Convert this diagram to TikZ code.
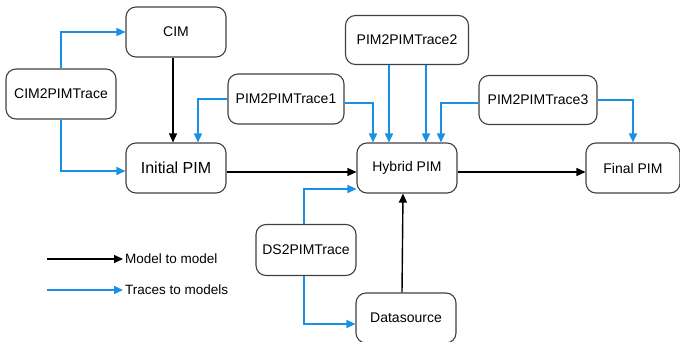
\documentclass[tikz,border=0pt]{standalone}
\usepackage{fontspec}
\setmainfont{Liberation Sans}
\usepackage{tikz}
\usetikzlibrary{arrows.meta,positioning}
\definecolor{traceblue}{RGB}{24,144,232}

\begin{document}
\begin{tikzpicture}[x=1pt,y=-1pt,
    model/.style={draw=black!75, line width=1.1pt, rounded corners=10pt,
      minimum width=100pt, minimum height=50pt, inner sep=2pt,
      font=\fontsize{14}{16}\selectfont},
    m2m/.style={-{Triangle[length=9pt,width=8pt]}, line width=1.4pt, black},
    trace/.style={-{Triangle[length=9pt,width=8pt]}, line width=1.6pt, traceblue}]
   \useasboundingbox (0,0) rectangle (680,342);

   \node[model] (cim) at (176,32) {CIM};
   \node[model, minimum width=110pt] (cimtrace) at (61,94) {CIM2PIMTrace};
   \node[model, font=\fontsize{16}{18}\selectfont] (ini) at (176,168) {Initial PIM};
   \node[model, minimum width=116pt] (trace1) at (286,99) {PIM2PIMTrace1};
   \node[model, minimum width=123pt, minimum height=49pt] (trace2) at (407,40) {PIM2PIMTrace2};
   \node[model] (hyb) at (407,168) {Hybrid PIM};
   \node[model, minimum width=118pt, minimum height=49pt] (trace3) at (538,100) {PIM2PIMTrace3};
   \node[model, minimum width=94pt] (fin) at (633,168) {Final PIM};
   \node[model, minimum height=51pt] (dstrace) at (306,250) {DS2PIMTrace};
   \node[model] (data) at (406,318) {Datasource};

   % legend
   \coordinate (leg1) at (47,259);
   \coordinate (leg2) at (47,290);
   \node[anchor=west, inner sep=2pt, font=\fontsize{13.5}{16}\selectfont] (legm2m) at (123,259) {Model to model};
   \node[anchor=west, inner sep=2pt, font=\fontsize{13.5}{16}\selectfont] (legtrace) at (123,290) {Traces to models};
   \draw[m2m] (leg1) -- (legm2m.west);
   \draw[trace] (leg2) -- (legtrace.west);

   % model to model
   \draw[m2m] ([xshift=-3pt]cim.south) -- ([xshift=-3pt]ini.north);
   \draw[m2m] ([yshift=-4pt]ini.east) -- ([yshift=-4pt]hyb.west);
   \draw[m2m] ([yshift=-4pt]hyb.east) -- ([yshift=-4pt]fin.west);
   \draw[m2m] ([xshift=-4pt]data.north) -- ([xshift=-4pt]hyb.south);

   % traces
   \draw[trace] (cimtrace.north) |- (cim.west);
   \draw[trace] (cimtrace.south) |- ([yshift=-3pt]ini.west);
   \draw[trace] (trace1.west) -| ([xshift=22pt]ini.north);
   \draw[trace] ([yshift=-4pt]trace1.east) -| ([xshift=-34pt]hyb.north);
   \draw[trace] ([xshift=-18pt]trace2.south) -- ([xshift=-18pt]hyb.north);
   \draw[trace] ([xshift=19pt]trace2.south) -- ([xshift=19pt]hyb.north);
   \draw[trace] ([yshift=-3pt]trace3.west) -| ([xshift=34pt]hyb.north);
   \draw[trace] (trace3.east) -| (fin.north);
   \draw[trace] ([xshift=-2pt]dstrace.north) |- ([yshift=-21pt]hyb.west);
   \draw[trace] ([xshift=-2pt]dstrace.south) |- ([yshift=-6pt]data.west);
\end{tikzpicture}
\end{document}
